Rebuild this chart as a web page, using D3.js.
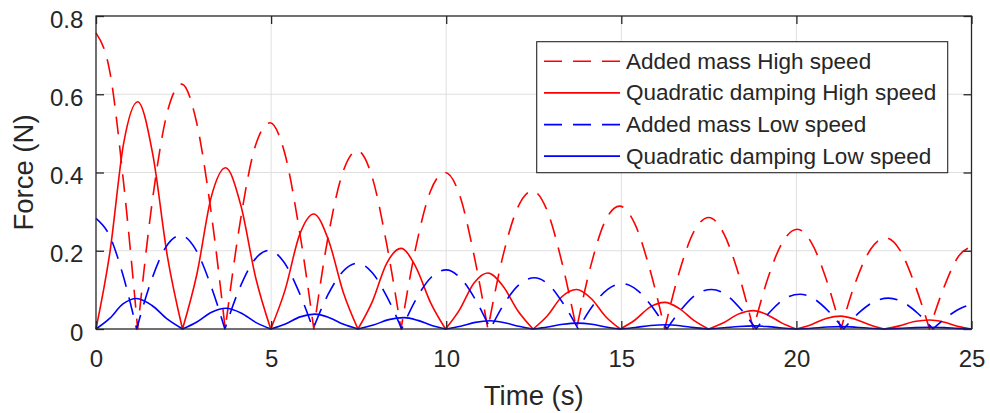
<!DOCTYPE html>
<html>
<head>
<meta charset="utf-8">
<script src="https://cdn.jsdelivr.net/npm/d3@7"></script>
<style>
  html, body { margin: 0; padding: 0; background: #fff; }
  svg { display: block; }
  text { font-family: "Liberation Sans", Arial, Helvetica, sans-serif; fill: #262626; }
</style>
</head>
<body>
<svg id="chart" width="990" height="413"></svg>
<script>
// ---- Data ----
const xTicks = [0, 5, 10, 15, 20, 25];
const yTicks = [0, 0.2, 0.4, 0.6, 0.8];
const xLabel = "Time (s)";
const yLabel = "Force (N)";
const seriesNames = ["Added mass High speed", "Quadratic damping High speed",
                     "Added mass Low speed", "Quadratic damping Low speed"];

// Added mass, high speed: [time (s), force (N)]
const amHigh = [
  [0,0.757],[0.40,0.655],[0.79,0.372],[1.19,0],
  [1.61,0.328],[2.03,0.552],[2.45,0.626],[2.86,0.533],[3.28,0.303],[3.69,0],
  [4.12,0.275],[4.54,0.465],[4.97,0.527],[5.39,0.449],[5.80,0.256],[6.22,0],
  [6.63,0.237],[7.05,0.401],[7.46,0.456],[7.88,0.390],[8.29,0.222],[8.71,0],
  [9.13,0.208],[9.55,0.352],[9.97,0.400],[10.38,0.343],[10.78,0.195],[11.19,0],
  [11.61,0.183],[12.04,0.310],[12.46,0.353],[12.88,0.303],[13.30,0.172],[13.72,0],
  [14.13,0.162],[14.54,0.276],[14.95,0.314],[15.38,0.270],[15.81,0.154],[16.24,0],
  [16.66,0.147],[17.08,0.250],[17.50,0.285],[17.92,0.245],[18.35,0.140],[18.77,0],
  [19.19,0.131],[19.61,0.223],[20.03,0.255],[20.44,0.219],[20.86,0.125],[21.27,0],
  [21.69,0.120],[22.12,0.204],[22.54,0.233],[22.96,0.201],[23.38,0.114],[23.80,0],
  [24.22,0.108],[24.63,0.186],[25.00,0.210]
];
// Quadratic damping, high speed
const qdHigh = [
  [0,0],[0.40,0.198],[0.79,0.475],[1.19,0.581],[1.62,0.447],[2.04,0.185],[2.47,0],
  [2.88,0.140],[3.29,0.337],[3.70,0.412],[4.13,0.318],[4.56,0.131],[4.99,0],
  [5.40,0.100],[5.81,0.240],[6.22,0.294],[6.64,0.227],[7.06,0.094],[7.48,0],
  [7.89,0.070],[8.30,0.168],[8.71,0.206],[9.13,0.159],[9.56,0.066],[9.98,0],
  [10.38,0.049],[10.79,0.117],[11.19,0.143],[11.62,0.110],[12.05,0.046],[12.48,0],
  [12.89,0.034],[13.31,0.083],[13.72,0.101],[14.14,0.078],[14.55,0.032],[14.97,0],
  [15.39,0.023],[15.82,0.056],[16.24,0.068],[16.66,0.052],[17.07,0.022],[17.49,0],
  [17.92,0.016],[18.34,0.038],[18.77,0.047],[19.18,0.036],[19.59,0.015],[20.00,0],
  [20.42,0.011],[20.85,0.027],[21.27,0.033],[21.68,0.025],[22.09,0.011],[22.50,0],
  [22.93,0.008],[23.37,0.019],[23.80,0.023],[24.20,0.018],[24.60,0.007],[25.00,0]
];
// Added mass, low speed
const amLow = [
  [0,0.283],[0.39,0.238],[0.77,0.138],[1.16,0],
  [1.58,0.124],[2.00,0.210],[2.42,0.239],[2.84,0.204],[3.26,0.116],[3.68,0],
  [4.10,0.104],[4.52,0.176],[4.94,0.201],[5.36,0.172],[5.78,0.098],[6.20,0],
  [6.62,0.087],[7.05,0.147],[7.47,0.168],[7.89,0.144],[8.31,0.082],[8.73,0],
  [9.15,0.078],[9.58,0.133],[10.00,0.151],[10.42,0.129],[10.84,0.074],[11.26,0],
  [11.68,0.068],[12.10,0.115],[12.52,0.131],[12.94,0.112],[13.35,0.064],[13.77,0],
  [14.19,0.060],[14.62,0.102],[15.04,0.116],[15.46,0.099],[15.88,0.057],[16.30,0],
  [16.73,0.052],[17.15,0.089],[17.58,0.101],[18.00,0.087],[18.43,0.049],[18.85,0],
  [19.27,0.046],[19.68,0.078],[20.10,0.089],[20.52,0.076],[20.93,0.044],[21.35,0],
  [21.78,0.041],[22.20,0.069],[22.63,0.079],[23.05,0.068],[23.48,0.039],[23.90,0],
  [24.32,0.032],[24.74,0.055],[25.00,0.062]
];
// Quadratic damping, low speed
const qdLow = [
  [0,0],[0.39,0.027],[0.77,0.064],[1.16,0.078],[1.60,0.060],[2.04,0.025],[2.47,0],
  [2.88,0.018],[3.30,0.043],[3.71,0.053],[4.14,0.041],[4.56,0.017],[4.99,0],
  [5.41,0.013],[5.83,0.031],[6.25,0.038],[6.66,0.029],[7.07,0.012],[7.48,0],
  [7.92,0.010],[8.36,0.024],[8.80,0.029],[9.19,0.022],[9.59,0.009],[9.98,0],
  [10.41,0.007],[10.83,0.017],[11.26,0.021],[11.67,0.016],[12.07,0.007],[12.48,0],
  [12.90,0.005],[13.33,0.012],[13.75,0.015],[14.16,0.012],[14.56,0.005],[14.97,0],
  [15.40,0.004],[15.84,0.009],[16.27,0.011],[16.68,0.0085],[17.08,0.0035],[17.49,0],
  [17.93,0.003],[18.36,0.0065],[18.80,0.008],[19.20,0.006],[19.60,0.0025],[20.00,0],
  [20.43,0.002],[20.87,0.005],[21.30,0.006],[21.70,0.0046],[22.10,0.002],[22.50,0],
  [22.94,0.0015],[23.39,0.0036],[23.83,0.0045],[24.22,0.0035],[24.61,0.0015],[25.00,0]
];

// ---- Layout ----
const svg = d3.select("#chart");
const L = 96, R = 971.5, T = 16, B = 329;
const x = d3.scaleLinear().domain([0, 25]).range([L, R]);
const y = d3.scaleLinear().domain([0, 0.8]).range([B, T]);
const axisColor = "#262626";
const gridColor = "#dfdfdf";
const tickLen = 8;

// grid
const grid = svg.append("g");
grid.selectAll("line.gx").data(xTicks.slice(1, -1)).enter().append("line")
  .attr("x1", d => x(d)).attr("x2", d => x(d)).attr("y1", T).attr("y2", B)
  .attr("stroke", gridColor).attr("stroke-width", 1);
grid.selectAll("line.gy").data(yTicks.slice(1, -1)).enter().append("line")
  .attr("x1", L).attr("x2", R).attr("y1", d => y(d)).attr("y2", d => y(d))
  .attr("stroke", gridColor).attr("stroke-width", 1);

// series
const styles = [
  {data: amHigh, color: "#ff0000", dash: "18,11"},
  {data: qdHigh, color: "#ff0000", dash: null},
  {data: amLow,  color: "#0000ff", dash: "18,11"},
  {data: qdLow,  color: "#0000ff", dash: null}
];
const line = d3.line().x(d => x(d[0])).y(d => y(d[1])).curve(d3.curveMonotoneX);

function archPath(data) {
  // split at zero-force cusps so every arch keeps its sharp bottom,
  // then join the pieces into one continuous sub-path
  const segs = [];
  let cur = [data[0]];
  for (let i = 1; i < data.length; i++) {
    cur.push(data[i]);
    if (data[i][1] === 0 && i < data.length - 1) { segs.push(cur); cur = [data[i]]; }
  }
  if (cur.length > 1) segs.push(cur);
  return segs.map((s, i) => {
    const p = line(s);
    return i === 0 ? p : "L" + p.slice(1);
  }).join("");
}

const lines = svg.append("g");
styles.forEach(s => {
  lines.append("path")
    .attr("d", archPath(s.data))
    .attr("fill", "none")
    .attr("stroke", s.color)
    .attr("stroke-width", 1.6)
    .attr("stroke-linejoin", "round")
    .attr("stroke-dasharray", s.dash);
});

// axes box and ticks
const ax = svg.append("g");
ax.append("rect").attr("x", L).attr("y", T).attr("width", R - L).attr("height", B - T)
  .attr("fill", "none").attr("stroke", axisColor).attr("stroke-width", 1.3);

const gx = svg.append("g").attr("transform", `translate(0,${B})`)
  .call(d3.axisBottom(x).tickValues(xTicks).tickSize(-tickLen).tickPadding(21)
        .tickFormat(d3.format("d")));
const gxTop = svg.append("g").attr("transform", `translate(0,${T})`)
  .call(d3.axisTop(x).tickValues(xTicks).tickSize(-tickLen).tickFormat(""));
const gy = svg.append("g").attr("transform", `translate(${L},0)`)
  .call(d3.axisLeft(y).tickValues(yTicks).tickSize(-tickLen).tickPadding(12.7)
        .tickFormat(d => d === 0 ? "0" : d3.format(".1f")(d)));
const gyR = svg.append("g").attr("transform", `translate(${R},0)`)
  .call(d3.axisRight(y).tickValues(yTicks).tickSize(-tickLen).tickFormat(""));

[gx, gxTop, gy, gyR].forEach(g => {
  g.select(".domain").remove();
  g.selectAll(".tick line").attr("stroke", axisColor).attr("stroke-width", 1.3);
  g.selectAll(".tick text").attr("fill", axisColor)
    .style("font-size", "24px")
    .style("font-family", '"Liberation Sans", Arial, Helvetica, sans-serif');
});
// hide ticks exactly at corners duplicated by box (keep them, harmless)
gy.selectAll(".tick text").attr("y", 3.5);

// axis labels
svg.append("text").attr("x", (L + R) / 2).attr("y", 405)
  .attr("text-anchor", "middle").style("font-size", "27.5px").text(xLabel);
svg.append("text")
  .attr("transform", `translate(33,${(T + B) / 2}) rotate(-90)`)
  .attr("text-anchor", "middle").style("font-size", "27.5px").text(yLabel);

// legend
const lg = svg.append("g");
const lgX = 536.7, lgY = 41.7, lgW = 411, lgH = 131;
lg.append("rect").attr("x", lgX).attr("y", lgY).attr("width", lgW).attr("height", lgH)
  .attr("fill", "#ffffff").attr("stroke", axisColor).attr("stroke-width", 1.1);
const rowY = [61.2, 92.9, 124.6, 156.1];
styles.forEach((s, i) => {
  lg.append("line").attr("x1", 544).attr("x2", 620).attr("y1", rowY[i]).attr("y2", rowY[i])
    .attr("stroke", s.color).attr("stroke-width", 1.6).attr("stroke-dasharray", s.dash);
  lg.append("text").attr("x", 626).attr("y", rowY[i] + 7.5)
    .style("font-size", "22.5px").text(seriesNames[i]);
});
</script>
</body>
</html>
